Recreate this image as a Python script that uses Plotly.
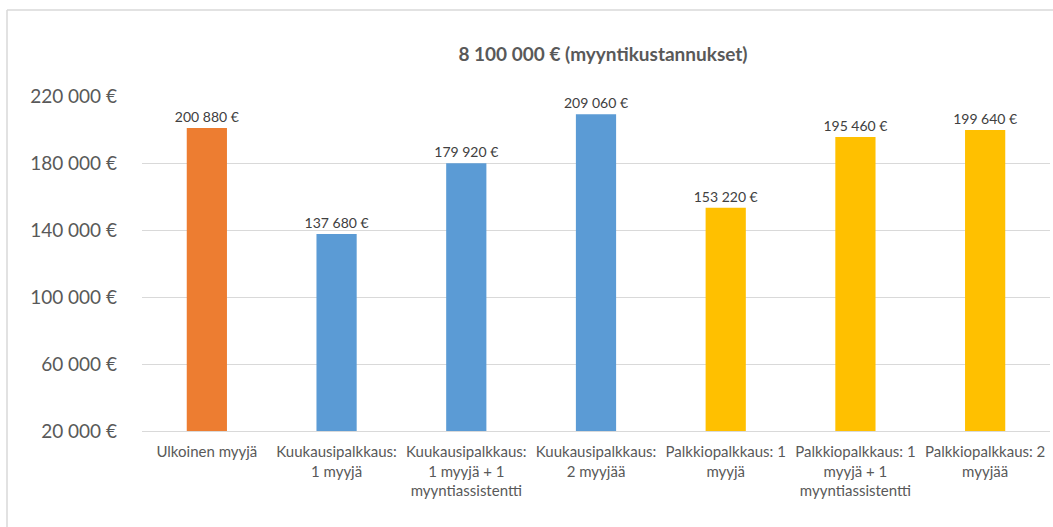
import plotly.graph_objects as go

# Sales cost comparison by sales-staff model
categories = [
    "Ulkoinen myyjä",
    "Kuukausipalkkaus:<br>1 myyjä",
    "Kuukausipalkkaus:<br>1 myyjä + 1<br>myyntiassistentti",
    "Kuukausipalkkaus:<br>2 myyjää",
    "Palkkiopalkkaus: 1<br>myyjä",
    "Palkkiopalkkaus: 1<br>myyjä + 1<br>myyntiassistentti",
    "Palkkiopalkkaus: 2<br>myyjää",
]
values = [200880, 137680, 179920, 209060, 153220, 195460, 199640]
bar_colors = ["#ED7D31", "#5B9BD5", "#5B9BD5", "#5B9BD5", "#FFC000", "#FFC000", "#FFC000"]
y_ticks = [20000, 60000, 100000, 140000, 180000, 220000]
title_text = "8 100 000 € (myyntikustannukset)"


def euro(v):
    return f"{v:,.0f}".replace(",", " ") + " €"


W, H = 1053, 527
L, R, T, B = 142, 3, 96, 96
FONT = "Lato, 'Open Sans', sans-serif"

fig = go.Figure(
    go.Bar(
        x=categories,
        y=values,
        marker=dict(color=bar_colors, line=dict(width=0)),
        text=[euro(v) for v in values],
        textposition="outside",
        constraintext="none",
        textfont=dict(family=FONT, size=14, color="#404040"),
        cliponaxis=False,
        hoverinfo="skip",
    )
)

# plot-area fractions for the chart frame (top and left edges)
fx0 = (7 - L) / (W - L - R)
fy_top = (H - B - 10) / (H - T - B)
fy_bot = (H - B - H) / (H - T - B)
fx1 = (W - L) / (W - L - R)

fig.update_layout(
    width=W,
    height=H,
    margin=dict(l=L, r=R, t=T, b=B),
    paper_bgcolor="white",
    plot_bgcolor="white",
    bargap=0.69,
    showlegend=False,
    title=dict(
        text="<b>" + title_text + "</b>",
        x=603 / W,
        xanchor="center",
        y=1 - 54 / H,
        yanchor="middle",
        font=dict(family=FONT, size=19, color="#595959"),
    ),
    xaxis=dict(
        showgrid=False,
        showline=True,
        linecolor="#D9D9D9",
        linewidth=1,
        ticks="",
        tickfont=dict(family=FONT, size=15, color="#595959"),
        ticklabelstandoff=7,
        fixedrange=True,
    ),
    yaxis=dict(
        range=[20000, 220000],
        tickmode="array",
        tickvals=y_ticks,
        ticktext=[euro(v) for v in y_ticks],
        showgrid=True,
        gridcolor="#D9D9D9",
        gridwidth=1,
        zeroline=False,
        showline=False,
        ticks="",
        tickfont=dict(family=FONT, size=19, color="#595959"),
        ticklabelstandoff=24,
        fixedrange=True,
    ),
    shapes=[
        dict(type="line", xref="paper", yref="paper", x0=fx0, x1=fx1, y0=fy_top, y1=fy_top,
             line=dict(color="#D9D9D9", width=1.5)),
        dict(type="line", xref="paper", yref="paper", x0=fx0, x1=fx0, y0=fy_top, y1=fy_bot,
             line=dict(color="#D9D9D9", width=1.5)),
    ],
)

fig.write_html("out.html", config={"displayModeBar": False})
